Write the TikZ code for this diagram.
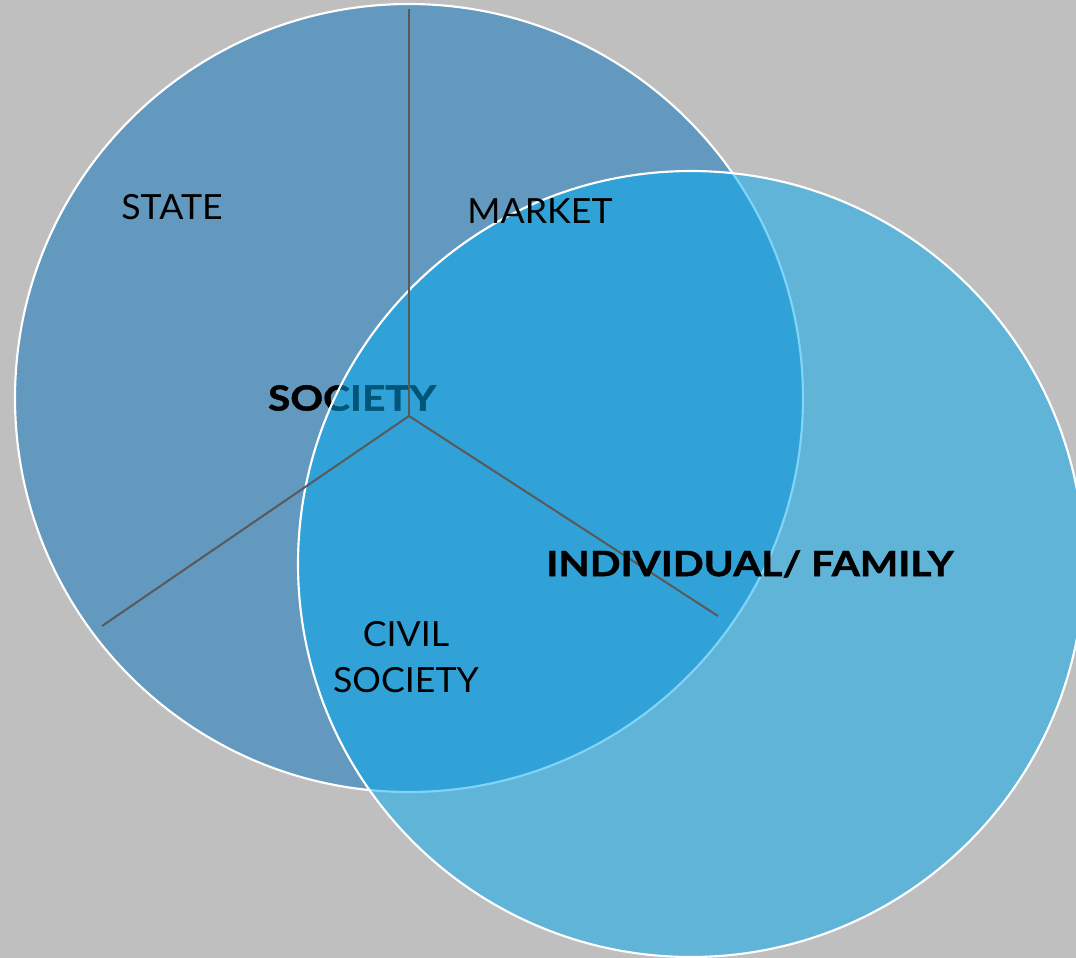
\documentclass[tikz,border=0pt]{standalone}
\usepackage{fontspec}
\setmainfont{Lato}[FakeStretch=1.03]
\newfontfamily\heavyfont{Lato}[FakeStretch=1.17,BoldFeatures={FakeBold=1.3}]
\definecolor{bg}{HTML}{BFBFBF}
\definecolor{stateblue}{HTML}{6399BF}
\definecolor{indblue}{RGB}{0,171,241}
\definecolor{spoke}{HTML}{595959}
\begin{document}
\begin{tikzpicture}[x=0.75pt,y=-0.75pt,
  ring/.style={draw=white,line width=1.6pt},
  spokeline/.style={draw=spoke,line width=1.5pt},
  lbl/.style={font=\fontsize{26}{35}\selectfont,text=black,inner sep=0pt,align=center},
  blbl/.style={font=\heavyfont\fontsize{26}{30}\selectfont\bfseries,text=black,inner sep=0pt}]
\fill[bg] (0,0) rectangle (1076,958);
\useasboundingbox (0,0) rectangle (1076,958);
% state/society circle
\node[ring,fill=stateblue,circle,minimum size=788*0.75pt,inner sep=0pt] (soc) at (409,398) {};
\node[blbl] (society) at (352,398) {SOCIETY};
% individual/family circle
\node[ring,fill=indblue,fill opacity=0.5,circle,minimum size=786*0.75pt,inner sep=0pt] (ind) at (691,564) {};
\coordinate (hub) at (409,416);
\coordinate (top) at (409,9);
\coordinate (left) at (102,626);
\coordinate (right) at (718,616);
\draw[spokeline] (hub) -- (top);
\draw[spokeline] (hub) -- (left);
\draw[spokeline] (hub) -- (right);
\node[lbl] (state) at (172,207) {STATE};
\node[lbl] (market) at (540,211) {MARKET};
\node[blbl] (family) at (750,564) {INDIVIDUAL/ FAMILY};
\node[lbl] (civil) at (406,657) {CIVIL\\SOCIETY};
\end{tikzpicture}
\end{document}
